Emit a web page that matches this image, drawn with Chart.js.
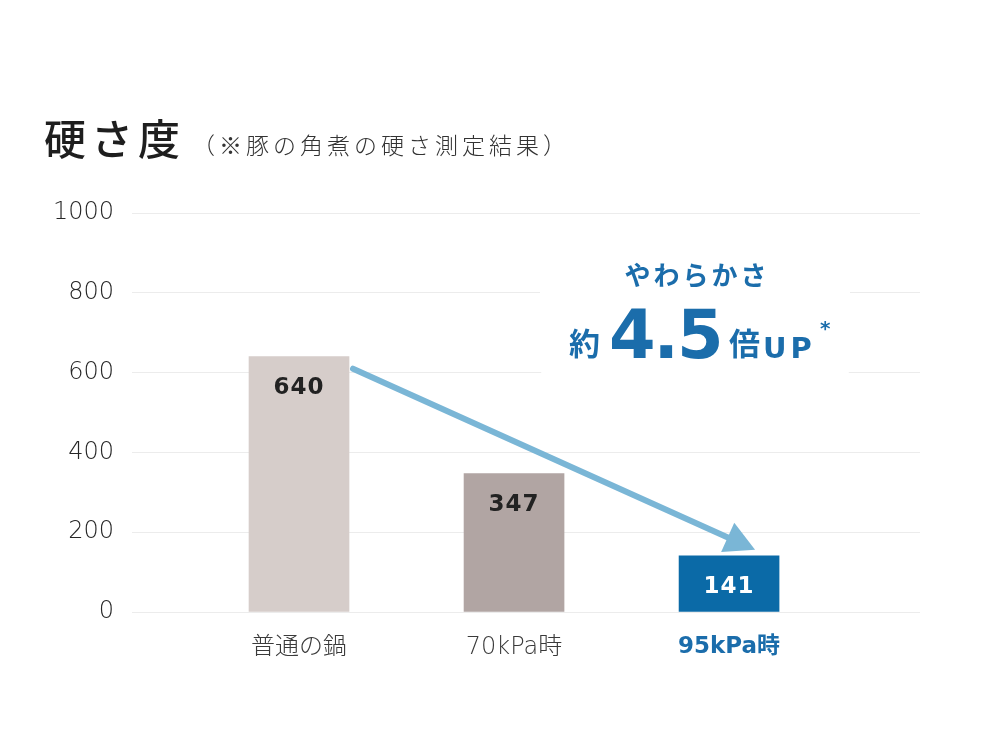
<!DOCTYPE html>
<html lang="ja">
<head>
<meta charset="utf-8">
<script src="https://cdn.jsdelivr.net/npm/chart.js@4.4.1/dist/chart.umd.min.js"></script>
<style>
    html, body { margin: 0; padding: 0; background: #fff; }
    canvas { display: block; }
</style>
</head>
<body>
<canvas id="grafico" width="1000" height="750"></canvas>
<script>
// Datos
const categorias = ["普通の鍋", "70kPa時", "95kPa時"];
const valores = [640, 347, 141];
const ticksY = [0, 200, 400, 600, 800, 1000];

const coloresBarra = ["#d6cdca", "#b1a5a3", "#0b6aa7"];
const coloresValor = ["#222222", "#222222", "#ffffff"];
const azul = "#1b6dab";

const titulo = "硬さ度";
const subtitulo = "（※豚の角煮の硬さ測定結果）";

const FUENTE_JP = '"Noto Sans CJK JP", "Noto Sans", sans-serif';
const FUENTE_NUM = '"DejaVu Sans", "Noto Sans CJK JP", sans-serif';

function escribir(ctx, texto, x, y, font, color, align, base, espacio) {
    ctx.save();
    ctx.font = font;
    ctx.fillStyle = color;
    ctx.textAlign = align || "left";
    ctx.textBaseline = base || "alphabetic";
    if ("letterSpacing" in ctx) ctx.letterSpacing = (espacio || 0) + "px";
    ctx.fillText(texto, x, y);
    ctx.restore();
}

// Textos, flecha y cuadro
const extras = {
    id: "extras",
    beforeDatasetsDraw(chart) {
        const ctx = chart.ctx;
        ctx.save();
        ctx.fillStyle = "#ffffff";
        ctx.beginPath();
        ctx.roundRect(540, 243, 310, 138, 14);
        ctx.fill();
        ctx.restore();

        escribir(ctx, "やわらかさ", 697, 275, `700 26px ${FUENTE_JP}`, azul, "center", "middle", 3);
        escribir(ctx, "約", 569, 343, `700 31px ${FUENTE_JP}`, azul, "left", "middle", 0);
        escribir(ctx, "4.5", 609, 358, `700 67px ${FUENTE_NUM}`, azul, "left", "alphabetic", -2);
        escribir(ctx, "倍", 729, 343, `700 31px ${FUENTE_JP}`, azul, "left", "middle", 0);
        escribir(ctx, "UP", 763, 358, `700 29px ${FUENTE_NUM}`, azul, "left", "alphabetic", 4);
        escribir(ctx, "*", 820, 320, `700 20px ${FUENTE_NUM}`, azul, "left", "top", 0);
    },
    afterDatasetsDraw(chart) {
        const ctx = chart.ctx;
        const barras = chart.getDatasetMeta(0).data;

        barras.forEach((b, i) => {
            escribir(ctx, String(valores[i]), b.x, b.y + 31, `700 23px ${FUENTE_NUM}`,
                coloresValor[i], "center", "middle", 1);
        });

        // flecha
        const b1 = barras[0], b3 = barras[barras.length - 1];
        const x0 = b1.x + 54, y0 = b1.y + 12;
        const x1 = b3.x + 26, y1 = b3.y - 6;
        const ang = Math.atan2(y1 - y0, x1 - x0);
        const largo = 30, medio = 16;
        const bx = x1 - largo * Math.cos(ang), by = y1 - largo * Math.sin(ang);

        ctx.save();
        ctx.strokeStyle = "#7ab6d6";
        ctx.fillStyle = "#7ab6d6";
        ctx.lineWidth = 6;
        ctx.lineCap = "round";
        ctx.beginPath();
        ctx.moveTo(x0, y0);
        ctx.lineTo(bx + 2 * Math.cos(ang), by + 2 * Math.sin(ang));
        ctx.stroke();
        ctx.beginPath();
        ctx.moveTo(x1, y1);
        ctx.lineTo(bx + medio * Math.sin(ang), by - medio * Math.cos(ang));
        ctx.lineTo(bx - medio * Math.sin(ang), by + medio * Math.cos(ang));
        ctx.closePath();
        ctx.fill();
        ctx.restore();
    },
    afterDraw(chart) {
        const ctx = chart.ctx;
        escribir(ctx, titulo, 44, 139, `500 42px ${FUENTE_JP}`, "#1e1e1e", "left", "middle", 5);
        escribir(ctx, subtitulo, 192, 145, `300 23px ${FUENTE_JP}`, "#333333", "left", "middle", 4);
    }
};

new Chart(document.getElementById("grafico"), {
    type: "bar",
    data: {
        datasets: [{
            data: valores.map((v, i) => ({ x: i, y: v })),
            backgroundColor: coloresBarra,
            borderWidth: 0,
            barThickness: 100
        }]
    },
    options: {
        responsive: false,
        animation: false,
        devicePixelRatio: 1,
        layout: { padding: { top: 213, right: 80, bottom: 0, left: 0 } },
        plugins: {
            legend: { display: false },
            tooltip: { enabled: false }
        },
        scales: {
            x: {
                type: "linear",
                offset: false,
                min: -0.7767,
                max: 2.888,
                grid: { display: false, offset: false },
                border: { display: false },
                afterFit(scale) { scale.height = 138; },
                ticks: {
                    stepSize: 1,
                    includeBounds: false,
                    autoSkip: false,
                    maxRotation: 0,
                    padding: 13,
                    callback: v => categorias[v] ?? "",
                    color: c => c.tick && c.tick.value === 2 ? azul : "#3a3a3a",
                    font: c => c.tick && c.tick.value === 2
                        ? { family: FUENTE_NUM, size: 23, weight: "700" }
                        : { family: FUENTE_NUM, size: 24, weight: "300" }
                }
            },
            y: {
                min: ticksY[0],
                max: ticksY[ticksY.length - 1],
                afterFit(scale) { scale.width = 132; },
                afterBuildTicks(scale) { scale.ticks = ticksY.map(v => ({ value: v })); },
                grid: { color: "#ececec", lineWidth: 1, drawTicks: false },
                border: { display: false },
                ticks: {
                    padding: 18,
                    color: "#262626",
                    callback: v => String(v),
                    font: { family: FUENTE_NUM, size: 24, weight: "300" }
                }
            }
        }
    },
    plugins: [extras]
});
</script>
</body>
</html>
